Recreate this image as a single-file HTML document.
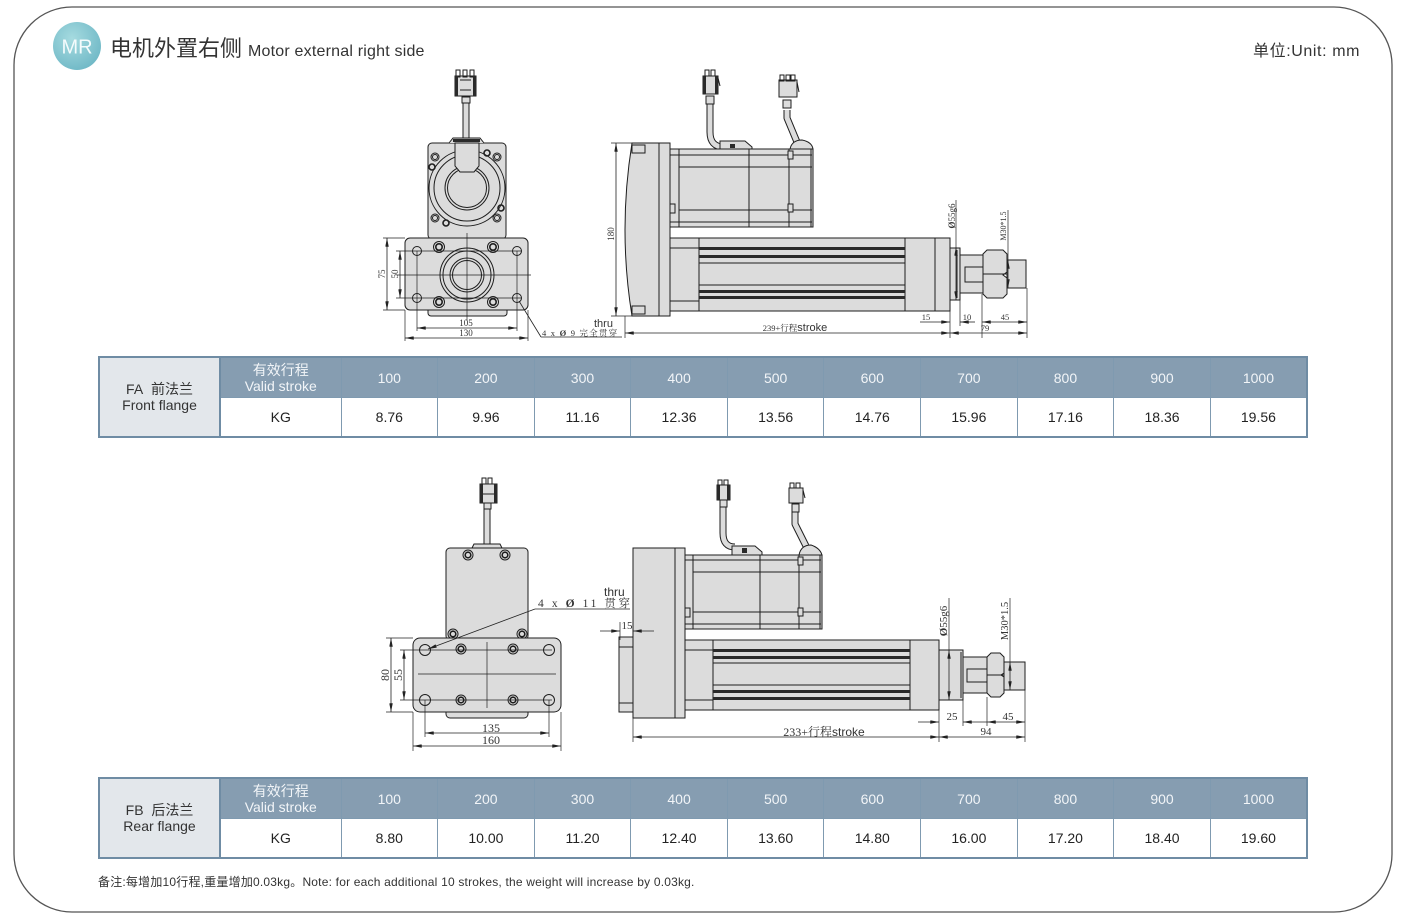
<!DOCTYPE html>
<html><head><meta charset="utf-8">
<style>
body{margin:0;width:1408px;height:924px;background:#fff;position:relative;overflow:hidden;font-family:"Liberation Sans","Noto Sans CJK SC",sans-serif}
svg{position:absolute;left:0;top:0}
.t{position:absolute;left:98px;width:1210px;border-collapse:collapse;table-layout:fixed;border:2px solid #6f8ca4}
.t td{border:1px solid #7f9ab0;text-align:center;padding:0;line-height:16px}
.t tr.h td{height:39px;background:#869db1;color:#f2f5f8;font-size:14px}
.t tr.d td{height:38px;background:#fff;color:#222;font-size:14px}
.t td.f{background:#e3e7eb !important;color:#333 !important;border-right:2px solid #6f8ca4}
.t td.v{font-size:13px}
.title{position:absolute;left:110px;top:31px;font-size:22px;color:#333;white-space:nowrap}
.title span{font-size:16px;margin-left:6px;letter-spacing:0.2px}
.unit{position:absolute;left:1253px;top:37px;font-size:16px;color:#333;white-space:nowrap;letter-spacing:0.6px}
.note{position:absolute;left:98px;top:873px;font-size:12px;color:#333;white-space:nowrap;letter-spacing:0.2px}
</style></head><body>
<svg width="1408" height="924" viewBox="0 0 1408 924" xmlns="http://www.w3.org/2000/svg">
<defs>
<marker id="ar" viewBox="0 0 10 4" refX="10" refY="2" markerWidth="9" markerHeight="3.5" orient="auto-start-reverse" markerUnits="userSpaceOnUse"><path d="M0,0 L10,2 L0,4 Z" fill="#222"/></marker>
<radialGradient id="mr" cx="0.4" cy="0.35" r="0.7"><stop offset="0" stop-color="#a6dbe0"/><stop offset="1" stop-color="#6fb8c6"/></radialGradient>
<style>
.g{fill:#dcdcdc;stroke:#1e1e1e;stroke-width:1}
.n{fill:none;stroke:#1e1e1e;stroke-width:1}
.th{fill:none;stroke:#222;stroke-width:0.7}
.dl{fill:none;stroke:#222;stroke-width:0.8}
.dk{fill:#2a2a2a;stroke:none}
.s{font-family:"Liberation Serif","Noto Serif CJK SC",serif;fill:#333}
.ss{font-family:"Liberation Sans","Noto Sans CJK SC",sans-serif;fill:#333}
</style>
</defs>

<!-- outer frame -->
<rect x="14" y="7" width="1378" height="905" rx="58" fill="none" stroke="#555" stroke-width="1.3"/>
<circle cx="77" cy="46" r="24" fill="url(#mr)"/>
<text x="77" y="53.5" text-anchor="middle" font-size="20" fill="#f4fbfc" font-family="Liberation Sans, sans-serif">MR</text>

<!-- ================= TOP LEFT VIEW ================= -->
<path d="M466,100 V140" stroke="#1e1e1e" stroke-width="7" fill="none"/>
<path d="M466,100 V140" stroke="#dcdcdc" stroke-width="5" fill="none"/>
<rect x="462" y="97" width="8" height="6" class="g"/>
<rect x="455" y="76" width="21" height="20" class="g" fill="#eee"/>
<rect x="456" y="70" width="4" height="7" class="n"/><rect x="463" y="70" width="4" height="7" class="n"/><rect x="470" y="70" width="4" height="7" class="n"/>
<rect x="455" y="76" width="3" height="20" class="dk"/><rect x="473" y="76" width="3" height="20" class="dk"/>
<line x1="460" y1="80" x2="471" y2="80" class="n"/><line x1="460" y1="90" x2="471" y2="90" class="n"/>
<rect x="428" y="143" width="78" height="96" rx="4" class="g"/>
<path d="M449,143 L453,138 H480 L484,143" class="g"/>
<rect x="453" y="139" width="27" height="3" class="dk"/>
<circle cx="435" cy="157" r="4" class="n"/><circle cx="435" cy="157" r="2.5" class="n"/>
<circle cx="497" cy="157" r="4" class="n"/><circle cx="497" cy="157" r="2.5" class="n"/>
<circle cx="435" cy="218" r="4" class="n"/><circle cx="435" cy="218" r="2.5" class="n"/>
<circle cx="497" cy="218" r="4" class="n"/><circle cx="497" cy="218" r="2.5" class="n"/>
<circle cx="467" cy="188" r="38" class="g"/>
<circle cx="467" cy="188" r="33" class="n"/>
<circle cx="467" cy="188" r="22" class="n"/>
<circle cx="467" cy="188" r="19.5" class="n"/>
<path d="M455,143 V166 L460,172 H474 L479,166 V143 Z" class="g"/>
<circle cx="432" cy="167" r="3" fill="none" stroke="#1e1e1e" stroke-width="1.6"/>
<circle cx="487" cy="153" r="3" fill="none" stroke="#1e1e1e" stroke-width="1.6"/>
<circle cx="501" cy="208" r="3" fill="none" stroke="#1e1e1e" stroke-width="1.6"/>
<circle cx="446" cy="223" r="3" fill="none" stroke="#1e1e1e" stroke-width="1.6"/>
<rect x="428" y="304" width="79" height="12" rx="3" class="g"/>
<rect x="405" y="238" width="123" height="72" rx="5" class="g"/>
<circle cx="467" cy="275" r="27" class="g"/>
<circle cx="467" cy="275" r="24" class="n"/>
<circle cx="467" cy="275" r="17" class="n" stroke-width="1.5"/>
<circle cx="467" cy="275" r="14.5" class="n"/>
<circle cx="417" cy="251" r="4.5" class="n"/><circle cx="517" cy="251" r="4.5" class="n"/>
<circle cx="417" cy="298" r="4.5" class="n"/><circle cx="517" cy="298" r="4.5" class="n"/>
<g fill="none" stroke="#1e1e1e">
<circle cx="439" cy="247" r="5.5"/><circle cx="439" cy="247" r="3.2" stroke-width="1.6"/>
<circle cx="493" cy="247" r="5.5"/><circle cx="493" cy="247" r="3.2" stroke-width="1.6"/>
<circle cx="439" cy="302" r="5.5"/><circle cx="439" cy="302" r="3.2" stroke-width="1.6"/>
<circle cx="493" cy="302" r="5.5"/><circle cx="493" cy="302" r="3.2" stroke-width="1.6"/>
</g>
<line x1="397" y1="275" x2="531" y2="275" class="th"/>
<line x1="467" y1="233" x2="467" y2="321" class="th"/>
<line x1="396" y1="251" x2="522" y2="251" class="th"/>
<line x1="396" y1="298" x2="522" y2="298" class="th"/>
<line x1="383" y1="238" x2="405" y2="238" class="th"/>
<line x1="383" y1="310" x2="405" y2="310" class="th"/>
<line x1="417" y1="251" x2="417" y2="331" class="th"/>
<line x1="517" y1="251" x2="517" y2="331" class="th"/>
<line x1="405" y1="310" x2="405" y2="341" class="th"/>
<line x1="528" y1="310" x2="528" y2="341" class="th"/>
<line x1="387" y1="238" x2="387" y2="310" class="dl" marker-start="url(#ar)" marker-end="url(#ar)"/>
<text class="s" font-size="9" text-anchor="middle" transform="translate(385,274) rotate(-90)">75</text>
<line x1="400" y1="251" x2="400" y2="298" class="dl" marker-start="url(#ar)" marker-end="url(#ar)"/>
<text class="s" font-size="9" text-anchor="middle" transform="translate(398,274) rotate(-90)">50</text>
<line x1="417" y1="328" x2="517" y2="328" class="dl" marker-start="url(#ar)" marker-end="url(#ar)"/>
<text class="s" font-size="9" x="466" y="326" text-anchor="middle">105</text>
<line x1="405" y1="338" x2="528" y2="338" class="dl" marker-start="url(#ar)" marker-end="url(#ar)"/>
<text class="s" font-size="9" x="466" y="336" text-anchor="middle">130</text>
<line x1="519" y1="301" x2="541" y2="337" class="dl"/>
<line x1="541" y1="337" x2="622" y2="337" class="dl"/>
<text class="s" font-size="8.5" x="542" y="336" letter-spacing="1.2">4 x <tspan font-weight="bold">Ø</tspan> 9 完全贯穿</text>
<text class="ss" font-size="11" x="594" y="327">thru</text>

<!-- ================= TOP RIGHT VIEW ================= -->
<path d="M710,104 V132 Q710,147 724,147" stroke="#1e1e1e" stroke-width="7" fill="none"/>
<path d="M710,104 V132 Q710,147 724,147" stroke="#dcdcdc" stroke-width="5" fill="none"/>
<rect x="706" y="96" width="8" height="8" class="g"/>
<rect x="703" y="76" width="15" height="18" class="g" fill="#eee"/>
<rect x="703" y="76" width="3" height="18" class="dk"/><rect x="715" y="76" width="3" height="18" class="dk"/>
<rect x="705" y="70" width="4" height="6" class="n"/><rect x="711" y="70" width="4" height="6" class="n"/>
<line x1="718" y1="78" x2="720" y2="86" class="n"/>
<path d="M787,110 V118 L797,142" stroke="#1e1e1e" stroke-width="7" fill="none" stroke-linejoin="round"/>
<path d="M787,110 V118 L797,142" stroke="#dcdcdc" stroke-width="5" fill="none" stroke-linejoin="round"/>
<rect x="783" y="100" width="8" height="8" class="g"/>
<rect x="779" y="80" width="18" height="17" class="g" fill="#eee"/>
<rect x="780" y="75" width="4" height="6" class="n"/><rect x="786" y="75" width="4" height="6" class="n"/><rect x="791" y="75" width="4" height="6" class="n"/>
<line x1="797" y1="82" x2="799" y2="92" class="n"/>
<path d="M632,143 H670 V316 H632 Q618,230 632,143 Z" class="g"/>
<line x1="659" y1="143" x2="659" y2="316" class="n" stroke-width="1.5"/>
<rect x="632" y="145" width="13" height="8" class="n"/>
<rect x="632" y="306" width="13" height="8" class="n"/>
<path d="M720,149 V141 H745 L752,147 V149 Z" class="g"/>
<rect x="730" y="144" width="5" height="4" class="dk"/>
<path d="M790,149 Q792,140 802,140 Q812,142 813,149 Z" class="g"/>
<rect x="670" y="149" width="143" height="78" class="g"/>
<line x1="670" y1="155" x2="812" y2="155" class="n"/>
<line x1="679" y1="167" x2="812" y2="167" class="n"/>
<line x1="679" y1="210" x2="812" y2="210" class="n"/>
<line x1="670" y1="222" x2="812" y2="222" class="n"/>
<line x1="679" y1="149" x2="679" y2="227" class="n" stroke-width="2"/>
<line x1="749" y1="149" x2="749" y2="227" class="n" stroke-width="1.5"/>
<line x1="789" y1="149" x2="789" y2="227" class="n" stroke-width="1.5"/>
<line x1="811" y1="149" x2="811" y2="227" class="n"/>
<rect x="670" y="204" width="5" height="9" class="g"/>
<rect x="788" y="151" width="5" height="8" class="g"/>
<rect x="788" y="204" width="5" height="8" class="g"/>
<rect x="670" y="238" width="280" height="73" class="g"/>
<line x1="699" y1="238" x2="699" y2="311" class="n" stroke-width="1.5"/>
<line x1="905" y1="238" x2="905" y2="311" class="n" stroke-width="1.5"/>
<line x1="935" y1="238" x2="935" y2="311" class="n"/>
<line x1="670" y1="248" x2="699" y2="248" class="n"/>
<line x1="670" y1="301" x2="699" y2="301" class="n"/>
<rect x="699" y="247" width="206" height="3" class="dk"/>
<rect x="699" y="255" width="206" height="3" class="dk"/>
<line x1="699" y1="263" x2="905" y2="263" class="n"/>
<line x1="699" y1="285" x2="905" y2="285" class="n"/>
<rect x="699" y="290" width="206" height="3" class="dk"/>
<rect x="699" y="296" width="206" height="3" class="dk"/>
<rect x="950" y="248" width="10" height="52" class="g"/>
<line x1="957" y1="250" x2="957" y2="298" class="n" stroke-width="1.5"/>
<rect x="960" y="255" width="23" height="38" class="g"/>
<rect x="965" y="267" width="18" height="15" class="g"/>
<path d="M983,254 L987,250 H1003 L1007,254 V272 L1003,275 L1007,278 V294 L1003,298 H987 L983,294 Z" class="g"/>
<line x1="983" y1="274" x2="1007" y2="274" class="n"/>
<rect x="1007" y="260" width="19" height="28" class="g"/>
<line x1="611" y1="143" x2="632" y2="143" class="th"/>
<line x1="611" y1="316" x2="632" y2="316" class="th"/>
<line x1="616" y1="143" x2="616" y2="316" class="dl" marker-start="url(#ar)" marker-end="url(#ar)"/>
<text class="s" font-size="9" text-anchor="middle" transform="translate(614,234) rotate(-90)">180</text>
<line x1="956" y1="200" x2="956" y2="247" class="th"/>
<line x1="956" y1="247" x2="956" y2="300" class="dl" marker-start="url(#ar)" marker-end="url(#ar)"/>
<text class="s" font-size="9" text-anchor="middle" transform="translate(955,216) rotate(-90)"><tspan font-weight="bold">Ø</tspan>55g6</text>
<line x1="1008" y1="210" x2="1008" y2="260" class="th"/>
<line x1="1008" y1="260" x2="1008" y2="288" class="dl" marker-start="url(#ar)" marker-end="url(#ar)"/>
<text class="s" font-size="8" text-anchor="middle" transform="translate(1006,226) rotate(-90)">M30*1.5</text>
<line x1="625" y1="316" x2="625" y2="338" class="th"/>
<line x1="950" y1="311" x2="950" y2="338" class="th"/>
<line x1="960" y1="300" x2="960" y2="326" class="th"/>
<line x1="982" y1="294" x2="982" y2="338" class="th"/>
<line x1="1027" y1="288" x2="1027" y2="338" class="th"/>
<line x1="625" y1="333" x2="950" y2="333" class="dl" marker-start="url(#ar)" marker-end="url(#ar)"/>
<text x="795" y="331" text-anchor="middle"><tspan class="s" font-size="8.5">239+行程</tspan><tspan class="ss" font-size="11">stroke</tspan></text>
<line x1="950" y1="333" x2="1027" y2="333" class="dl" marker-start="url(#ar)" marker-end="url(#ar)"/>
<text class="s" font-size="8.5" x="985" y="331" text-anchor="middle">79</text>
<line x1="920" y1="322" x2="950" y2="322" class="dl" marker-end="url(#ar)"/>
<text class="s" font-size="8.5" x="926" y="320" text-anchor="middle">15</text>
<line x1="960" y1="322" x2="975" y2="322" class="dl" marker-start="url(#ar)"/>
<text class="s" font-size="8.5" x="967" y="320" text-anchor="middle">10</text>
<line x1="982" y1="322" x2="1027" y2="322" class="dl" marker-start="url(#ar)" marker-end="url(#ar)"/>
<text class="s" font-size="8.5" x="1005" y="320" text-anchor="middle">45</text>

<!-- ================= BOTTOM LEFT VIEW ================= -->
<path d="M487,507 V546" stroke="#1e1e1e" stroke-width="7" fill="none"/>
<path d="M487,507 V546" stroke="#dcdcdc" stroke-width="5" fill="none"/>
<rect x="484" y="503" width="7" height="6" class="g"/>
<rect x="480" y="484" width="17" height="19" class="g" fill="#eee"/>
<rect x="480" y="484" width="3" height="19" class="dk"/><rect x="494" y="484" width="3" height="19" class="dk"/>
<rect x="482" y="478" width="4" height="6" class="n"/><rect x="488" y="478" width="4" height="6" class="n"/>
<line x1="483" y1="494" x2="494" y2="494" class="n"/>
<path d="M472,548 L474,544 H500 L502,548 Z" class="g"/>
<rect x="446" y="548" width="82" height="92" rx="4" class="g"/>
<g fill="none" stroke="#1e1e1e">
<circle cx="468" cy="555" r="5"/><circle cx="468" cy="555" r="2.8" stroke-width="1.6"/>
<circle cx="505" cy="555" r="5"/><circle cx="505" cy="555" r="2.8" stroke-width="1.6"/>
<circle cx="453" cy="634" r="5"/><circle cx="453" cy="634" r="2.8" stroke-width="1.6"/>
<circle cx="522" cy="634" r="5"/><circle cx="522" cy="634" r="2.8" stroke-width="1.6"/>
</g>
<rect x="446" y="705" width="82" height="13" rx="4" class="g"/>
<rect x="413" y="638" width="148" height="74" rx="7" class="g"/>
<g fill="none" stroke="#1e1e1e">
<circle cx="425" cy="650" r="5.5"/><circle cx="549" cy="650" r="5.5"/>
<circle cx="425" cy="700" r="5.5"/><circle cx="549" cy="700" r="5.5"/>
<circle cx="461" cy="649" r="5"/><circle cx="461" cy="649" r="2.8" stroke-width="1.6"/>
<circle cx="513" cy="649" r="5"/><circle cx="513" cy="649" r="2.8" stroke-width="1.6"/>
<circle cx="461" cy="700" r="5"/><circle cx="461" cy="700" r="2.8" stroke-width="1.6"/>
<circle cx="513" cy="700" r="5"/><circle cx="513" cy="700" r="2.8" stroke-width="1.6"/>
</g>
<line x1="418" y1="674" x2="556" y2="674" class="th"/>
<line x1="487" y1="642" x2="487" y2="708" class="th"/>
<line x1="400" y1="650" x2="552" y2="650" class="th"/>
<line x1="400" y1="700" x2="552" y2="700" class="th"/>
<line x1="386" y1="638" x2="413" y2="638" class="th"/>
<line x1="386" y1="712" x2="413" y2="712" class="th"/>
<line x1="425" y1="700" x2="425" y2="737" class="th"/>
<line x1="549" y1="700" x2="549" y2="737" class="th"/>
<line x1="413" y1="712" x2="413" y2="751" class="th"/>
<line x1="561" y1="712" x2="561" y2="751" class="th"/>
<line x1="391" y1="638" x2="391" y2="712" class="dl" marker-start="url(#ar)" marker-end="url(#ar)"/>
<text class="s" font-size="12" text-anchor="middle" transform="translate(389,675) rotate(-90)">80</text>
<line x1="404" y1="650" x2="404" y2="700" class="dl" marker-start="url(#ar)" marker-end="url(#ar)"/>
<text class="s" font-size="12" text-anchor="middle" transform="translate(402,675) rotate(-90)">55</text>
<line x1="425" y1="733" x2="549" y2="733" class="dl" marker-start="url(#ar)" marker-end="url(#ar)"/>
<text class="s" font-size="12" x="491" y="732" text-anchor="middle">135</text>
<line x1="413" y1="746" x2="561" y2="746" class="dl" marker-start="url(#ar)" marker-end="url(#ar)"/>
<text class="s" font-size="12" x="491" y="744" text-anchor="middle">160</text>
<line x1="535" y1="609" x2="428" y2="649" class="dl" marker-end="url(#ar)"/>
<line x1="535" y1="609" x2="630" y2="609" class="dl"/>
<text class="s" font-size="11.5" x="538" y="607" letter-spacing="2.6">4 x <tspan font-weight="bold">Ø</tspan> 11 贯穿</text>
<text class="ss" font-size="12" x="604" y="596">thru</text>

<!-- ================= BOTTOM RIGHT VIEW ================= -->
<path d="M723,507 V533 Q723,547 735,547" stroke="#1e1e1e" stroke-width="7" fill="none"/>
<path d="M723,507 V533 Q723,547 735,547" stroke="#dcdcdc" stroke-width="5" fill="none"/>
<rect x="720" y="500" width="7" height="7" class="g"/>
<rect x="717" y="485" width="13" height="15" class="g" fill="#eee"/>
<rect x="717" y="485" width="3" height="15" class="dk"/><rect x="727" y="485" width="3" height="15" class="dk"/>
<rect x="718" y="480" width="4" height="5" class="n"/><rect x="724" y="480" width="4" height="5" class="n"/>
<path d="M795,512 V524 L806,546" stroke="#1e1e1e" stroke-width="7" fill="none" stroke-linejoin="round"/>
<path d="M795,512 V524 L806,546" stroke="#dcdcdc" stroke-width="5" fill="none" stroke-linejoin="round"/>
<rect x="792" y="504" width="7" height="8" class="g"/>
<rect x="789" y="488" width="14" height="15" class="g" fill="#eee"/>
<rect x="790" y="483" width="4" height="5" class="n"/><rect x="796" y="483" width="4" height="5" class="n"/>
<line x1="803" y1="490" x2="805" y2="498" class="n"/>
<rect x="619" y="637" width="14" height="75" class="g"/>
<line x1="619" y1="647" x2="633" y2="647" class="n"/>
<line x1="619" y1="703" x2="633" y2="703" class="n"/>
<rect x="633" y="548" width="52" height="170" class="g"/>
<line x1="675" y1="548" x2="675" y2="718" class="n" stroke-width="1.5"/>
<path d="M732,555 V546 H755 L762,552 V555 Z" class="g"/>
<rect x="742" y="548" width="5" height="5" class="dk"/>
<path d="M799,555 Q801,545 811,545 Q820,548 822,555 Z" class="g"/>
<rect x="685" y="555" width="137" height="74" class="g"/>
<line x1="685" y1="560" x2="821" y2="560" class="n"/>
<line x1="693" y1="572" x2="821" y2="572" class="n"/>
<line x1="693" y1="612" x2="821" y2="612" class="n"/>
<line x1="685" y1="624" x2="821" y2="624" class="n"/>
<line x1="693" y1="555" x2="693" y2="629" class="n" stroke-width="2"/>
<line x1="760" y1="555" x2="760" y2="629" class="n" stroke-width="1.5"/>
<line x1="799" y1="555" x2="799" y2="629" class="n" stroke-width="1.5"/>
<line x1="820" y1="555" x2="820" y2="629" class="n"/>
<rect x="685" y="608" width="5" height="9" class="g"/>
<rect x="798" y="557" width="5" height="8" class="g"/>
<rect x="798" y="608" width="5" height="8" class="g"/>
<rect x="685" y="640" width="254" height="70" class="g"/>
<line x1="713" y1="640" x2="713" y2="710" class="n" stroke-width="1.5"/>
<line x1="910" y1="640" x2="910" y2="710" class="n" stroke-width="1.5"/>
<line x1="685" y1="650" x2="713" y2="650" class="n"/>
<line x1="685" y1="700" x2="713" y2="700" class="n"/>
<rect x="713" y="649" width="197" height="3" class="dk"/>
<rect x="713" y="656" width="197" height="3" class="dk"/>
<line x1="713" y1="663" x2="910" y2="663" class="n"/>
<line x1="713" y1="685" x2="910" y2="685" class="n"/>
<rect x="713" y="690" width="197" height="3" class="dk"/>
<rect x="713" y="697" width="197" height="3" class="dk"/>
<rect x="939" y="650" width="24" height="50" class="g"/>
<line x1="961" y1="652" x2="961" y2="698" class="n" stroke-width="1.5"/>
<rect x="963" y="657" width="24" height="36" class="g"/>
<rect x="967" y="669" width="20" height="13" class="g"/>
<path d="M987,657 L991,653 H1000 L1004,657 V673 L1001,675 L1004,677 V693 L1000,697 H991 L987,693 Z" class="g"/>
<line x1="987" y1="675" x2="1004" y2="675" class="n"/>
<rect x="1004" y="662" width="21" height="28" class="g"/>
<line x1="600" y1="631" x2="620" y2="631" class="dl" marker-end="url(#ar)"/>
<line x1="654" y1="631" x2="633" y2="631" class="dl" marker-end="url(#ar)"/>
<line x1="620" y1="622" x2="620" y2="640" class="th"/>
<text class="s" font-size="11" x="627" y="629" text-anchor="middle">15</text>
<line x1="949" y1="598" x2="949" y2="650" class="th"/>
<line x1="949" y1="650" x2="949" y2="700" class="dl" marker-start="url(#ar)" marker-end="url(#ar)"/>
<text class="s" font-size="11" text-anchor="middle" transform="translate(947,621) rotate(-90)"><tspan font-weight="bold">Ø</tspan>55g6</text>
<line x1="1010" y1="598" x2="1010" y2="662" class="th"/>
<line x1="1010" y1="662" x2="1010" y2="690" class="dl" marker-start="url(#ar)" marker-end="url(#ar)"/>
<text class="s" font-size="10.5" text-anchor="middle" transform="translate(1008,621) rotate(-90)">M30*1.5</text>
<line x1="633" y1="718" x2="633" y2="742" class="th"/>
<line x1="939" y1="710" x2="939" y2="742" class="th"/>
<line x1="963" y1="700" x2="963" y2="726" class="th"/>
<line x1="987" y1="697" x2="987" y2="726" class="th"/>
<line x1="1025" y1="690" x2="1025" y2="742" class="th"/>
<line x1="918" y1="722" x2="939" y2="722" class="dl" marker-end="url(#ar)"/>
<line x1="963" y1="722" x2="987" y2="722" class="dl" marker-start="url(#ar)"/>
<text class="s" font-size="11" x="952" y="720" text-anchor="middle">25</text>
<line x1="987" y1="722" x2="1025" y2="722" class="dl" marker-start="url(#ar)" marker-end="url(#ar)"/>
<text class="s" font-size="11" x="1008" y="720" text-anchor="middle">45</text>
<line x1="939" y1="737" x2="1025" y2="737" class="dl" marker-start="url(#ar)" marker-end="url(#ar)"/>
<text class="s" font-size="11" x="986" y="735" text-anchor="middle">94</text>
<line x1="633" y1="737" x2="939" y2="737" class="dl" marker-start="url(#ar)" marker-end="url(#ar)"/>
<text x="824" y="736" text-anchor="middle"><tspan class="s" font-size="12">233+行程</tspan><tspan class="ss" font-size="12">stroke</tspan></text>
</svg>

<div class="title">电机外置右侧<span>Motor external right side</span></div>
<div class="unit">单位:Unit: mm</div>

<table class="t" style="top:356px">
<colgroup><col style="width:121px"><col style="width:121px"><col><col><col><col><col><col><col><col><col><col></colgroup>
<tr class="h"><td class="f" rowspan="2">FA&nbsp; 前法兰<br>Front flange</td><td class="v">有效行程<br>Valid stroke</td><td>100</td><td>200</td><td>300</td><td>400</td><td>500</td><td>600</td><td>700</td><td>800</td><td>900</td><td>1000</td></tr>
<tr class="d"><td>KG</td><td>8.76</td><td>9.96</td><td>11.16</td><td>12.36</td><td>13.56</td><td>14.76</td><td>15.96</td><td>17.16</td><td>18.36</td><td>19.56</td></tr>
</table>

<table class="t" style="top:777px">
<colgroup><col style="width:121px"><col style="width:121px"><col><col><col><col><col><col><col><col><col><col></colgroup>
<tr class="h"><td class="f" rowspan="2">FB&nbsp; 后法兰<br>Rear flange</td><td class="v">有效行程<br>Valid stroke</td><td>100</td><td>200</td><td>300</td><td>400</td><td>500</td><td>600</td><td>700</td><td>800</td><td>900</td><td>1000</td></tr>
<tr class="d"><td>KG</td><td>8.80</td><td>10.00</td><td>11.20</td><td>12.40</td><td>13.60</td><td>14.80</td><td>16.00</td><td>17.20</td><td>18.40</td><td>19.60</td></tr>
</table>

<div class="note">备注:每增加10行程,重量增加0.03kg。Note: for each additional 10 strokes, the weight will increase by 0.03kg.</div>
</body></html>
